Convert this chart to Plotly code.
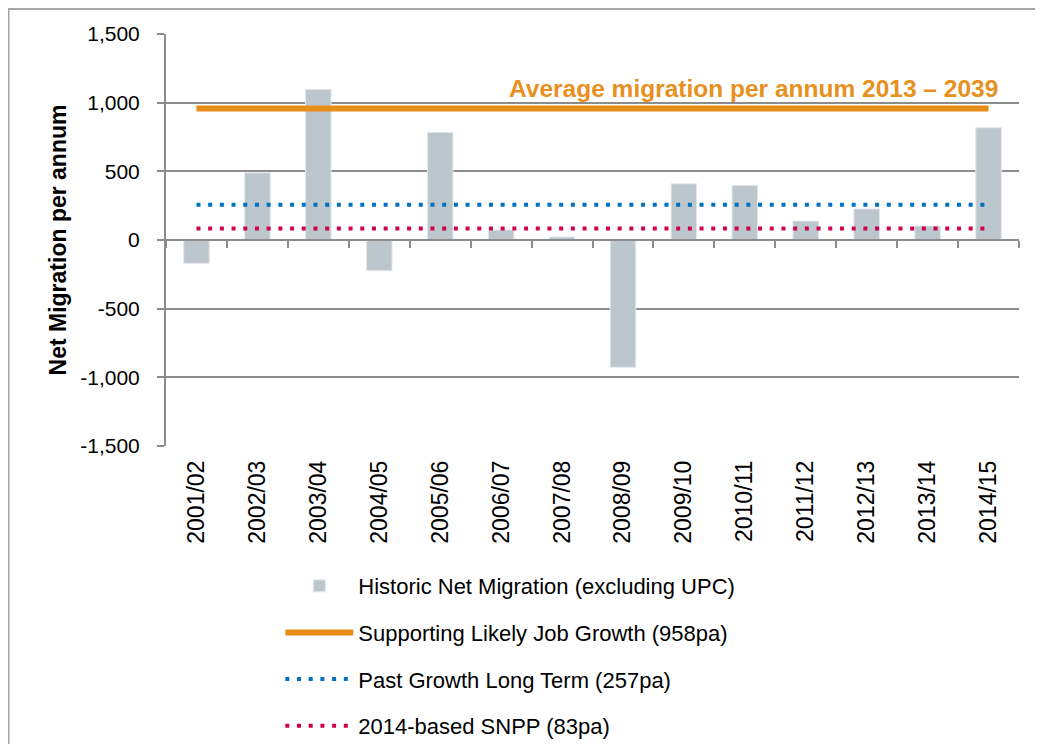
import plotly.graph_objects as go

years = ['2001/02', '2002/03', '2003/04', '2004/05', '2005/06', '2006/07', '2007/08',
         '2008/09', '2009/10', '2010/11', '2011/12', '2012/13', '2013/14', '2014/15']
historic = [-170, 490, 1097, -224, 784, 73, 22, -927, 410, 398, 138, 226, 102, 818]
job_growth = 958
past_growth = 257
snpp = 83

font = 'Liberation Sans, Arial, sans-serif'
grey = '#8c8c8c'

fig = go.Figure()

fig.add_trace(go.Bar(x=years, y=historic, name='Historic Net Migration (excluding UPC)',
                     marker=dict(color='#bcc7cd', line=dict(color='#e4e9ec', width=1)),
                     width=0.42, legendgroup='a'))
fig.add_trace(go.Scatter(x=years, y=[job_growth] * len(years), mode='lines',
                         name='Supporting Likely Job Growth (958pa)',
                         line=dict(color='#e88c1a', width=6), legendgroup='b'))
fig.add_trace(go.Scatter(x=years, y=[past_growth] * len(years), mode='lines',
                         name='Past Growth Long Term (257pa)',
                         line=dict(color='#0070c0', width=4, dash='4px,7.7px'), legendgroup='c'))
fig.add_trace(go.Scatter(x=years, y=[snpp] * len(years), mode='lines',
                         name='2014-based SNPP (83pa)',
                         line=dict(color='#d0004f', width=4, dash='4px,7.7px'), legendgroup='d'))

fig.add_annotation(x=0.978, xref='paper', y=1100, yref='y', xanchor='right', yanchor='middle',
                   text='<b>Average migration per annum 2013 – 2039</b>', showarrow=False,
                   font=dict(family=font, size=24.5, color='#e8901e'))

# outer chart frame (figure sits 8px inside the page)
fig.add_shape(type='rect', xref='paper', yref='paper', x0=-0.1846, x1=1.2, y0=1.0607, y1=-1.0,
              line=dict(color='#a6a6a6', width=2), fillcolor='rgba(0,0,0,0)', layer='below')

fig.update_layout(
    width=1035, height=736,
    margin=dict(l=158, r=24, t=26, b=298, autoexpand=False),
    paper_bgcolor='white', plot_bgcolor='white',
    font=dict(family=font, size=21, color='#000000'),
    bargap=0.58,
    showlegend=True,
    legend=dict(x=0.134, y=-0.289, xanchor='left', yanchor='top', itemwidth=68,
                tracegroupgap=15, font=dict(size=22), bgcolor='rgba(0,0,0,0)'),
    xaxis=dict(type='category', categoryorder='array', categoryarray=years,
               tickangle=-90, showline=False, showgrid=False, ticks='', zeroline=False,
               ticklabelstandoff=9, tickfont=dict(size=23), range=[-0.5, 13.5]),
    xaxis2=dict(type='category', categoryorder='array', categoryarray=years,
                overlaying='x', anchor='free', position=0.5, matches='x',
                showline=True, linecolor=grey, linewidth=2, ticks='outside', ticklen=7,
                tickcolor=grey, tickwidth=2, tickson='boundaries', showticklabels=False,
                showgrid=False, zeroline=False),
    yaxis=dict(range=[-1500, 1500], tickvals=[-1500, -1000, -500, 0, 500, 1000, 1500],
               ticktext=['-1,500', '-1,000', '-500', '0', '500', '1,000', '1,500'],
               showgrid=True, gridcolor=grey, gridwidth=2, zeroline=False,
               showline=True, linecolor=grey, linewidth=2, ticks='outside', ticklen=7,
               tickcolor=grey, tickwidth=2, ticklabelstandoff=13, tickfont=dict(size=21),
               title=dict(text='<b>Net Migration per annum</b>', font=dict(size=23), standoff=7)),
)

# dummy trace so the zero-line category axis draws its ticks
fig.add_trace(go.Scatter(x=years, y=[0] * len(years), xaxis='x2', mode='lines',
                         line=dict(width=0), showlegend=False, hoverinfo='skip'))

fig.write_html('out.html')
